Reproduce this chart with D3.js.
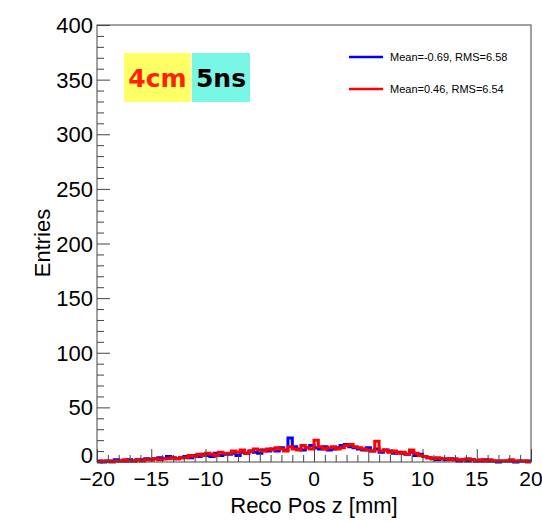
<!DOCTYPE html>
<html>
<head>
<meta charset="utf-8">
<script src="https://cdn.jsdelivr.net/npm/d3@7"></script>
<style>
body { margin: 0; background: #fff; }
svg text { font-family: "Liberation Sans", Arial, Helvetica, sans-serif; }
</style>
</head>
<body>
<div id="chart"></div>
<script>
var W = 542, H = 523,
	margin = {top: 25, right: 11, bottom: 61, left: 97},
	width = W - margin.left - margin.right,
	height = H - margin.top - margin.bottom;

// histogram: 100 bins from -20 to 20 mm
var xMin = -20, xMax = 20, nBins = 100;
var blueCounts = [
	1,0,1,1,2,1,1,2,1,2,
	2,3,2,3,4,3,5,4,3,4,
	5,4,6,5,7,6,5,8,6,7,
	7,8,6,9,8,10,9,8,11,10,
	12,10,13,11,22,14,12,11,13,15,
	13,12,14,11,12,13,15,16,14,13,
	12,11,13,10,12,9,11,10,8,9,
	8,7,9,6,7,5,4,3,2,3,
	2,3,2,1,2,1,2,1,1,2,
	1,1,0,1,1,1,0,1,1,1
];
var redCounts = [
	0,1,1,0,1,1,2,1,1,2,
	1,2,2,3,2,3,3,4,3,4,
	4,6,5,7,6,8,7,6,9,8,
	8,10,9,11,8,10,12,11,10,12,
	11,13,12,10,14,12,11,15,13,12,
	20,14,12,13,14,12,13,15,16,14,
	13,12,11,10,19,10,11,9,10,8,
	9,7,11,8,6,5,4,3,4,3,
	3,2,3,2,2,3,2,1,2,1,
	2,1,1,1,1,2,1,1,1,0
];
var legendLabels = ["Mean=-0.69, RMS=6.58", "Mean=0.46, RMS=6.54"];
var seriesColors = ["#0000ff", "#ff0000"];
var xTicks = [-20, -15, -10, -5, 0, 5, 10, 15, 20];
var yTicks = [0, 50, 100, 150, 200, 250, 300, 350, 400];

var svg = d3.select("#chart").append("svg")
	.attr("width", W)
	.attr("height", H);

var xScale = d3.scaleLinear().domain([xMin, xMax]).range([0, width]),
	yScale = d3.scaleLinear().domain([0, 400]).range([height, 0]);

var main = svg.append("g")
	.attr("transform", "translate(" + margin.left + "," + margin.top + ")");

var binW = (xMax - xMin) / nBins;

// step line through bin edges
function stepPath(counts) {
	var pts = [];
	counts.forEach(function(c, i) {
		pts.push([xMin + i * binW, c]);
		pts.push([xMin + (i + 1) * binW, c]);
	});
	return d3.line()
		.x(function(d) { return xScale(d[0]); })
		.y(function(d) { return yScale(d[1]); })(pts);
}

[blueCounts, redCounts].forEach(function(counts, k) {
	main.append("path")
		.attr("d", stepPath(counts))
		.attr("fill", "none")
		.attr("stroke", seriesColors[k])
		.attr("stroke-width", 3)
		.attr("stroke-linejoin", "miter");
});

// frame
main.append("rect")
	.attr("width", width)
	.attr("height", height)
	.attr("fill", "none")
	.attr("stroke", "#444")
	.attr("stroke-width", 1);

// x axis
var xAxis = d3.axisBottom(xScale)
	.tickValues(d3.range(-20, 21, 1))
	.tickSize(0)
	.tickFormat("");
var gx = main.append("g")
	.attr("transform", "translate(0," + height + ")")
	.call(xAxis);
gx.select(".domain").remove();
gx.selectAll(".tick line")
	.attr("stroke", "#444")
	.attr("y2", function(d) { return d % 5 === 0 ? -13 : -7; });

main.selectAll(".xlab")
	.data(xTicks)
	.enter().append("text")
	.attr("class", "xlab")
	.attr("x", function(d) { return xScale(d); })
	.attr("y", height + 24)
	.attr("text-anchor", "middle")
	.attr("font-size", 21)
	.text(function(d) { return d < 0 ? "\u2212" + Math.abs(d) : d; });

// y axis
var yAxis = d3.axisLeft(yScale)
	.tickValues(d3.range(0, 401, 10))
	.tickSize(0)
	.tickFormat("");
var gy = main.append("g").call(yAxis);
gy.select(".domain").remove();
gy.selectAll(".tick line")
	.attr("stroke", "#444")
	.attr("x2", function(d) { return d % 50 === 0 ? 13 : 7; });

main.selectAll(".ylab")
	.data(yTicks)
	.enter().append("text")
	.attr("class", "ylab")
	.attr("x", -4)
	.attr("y", function(d) { return yScale(d) + (d === 0 ? 1 : 8); })
	.attr("text-anchor", "end")
	.attr("font-size", 22)
	.text(function(d) { return d; });

// axis titles
svg.append("text")
	.attr("x", 314)
	.attr("y", 513)
	.attr("text-anchor", "middle")
	.attr("font-size", 22)
	.text("Reco Pos z [mm]");

svg.append("text")
	.attr("transform", "translate(50,243) rotate(-90)")
	.attr("text-anchor", "middle")
	.attr("font-size", 22)
	.text("Entries");

// tag boxes
var tags = [
	{label: "4cm", bg: "#ffff66", fg: "#ff2200", x: 124, w: 67},
	{label: "5ns", bg: "#77f7e4", fg: "#000000", x: 192, w: 58}
];
tags.forEach(function(t) {
	svg.append("rect")
		.attr("x", t.x).attr("y", 53)
		.attr("width", t.w).attr("height", 49)
		.attr("fill", t.bg);
	svg.append("text")
		.attr("x", t.x + t.w / 2)
		.attr("y", 87)
		.attr("text-anchor", "middle")
		.attr("font-size", 25)
		.attr("font-weight", "bold")
		.style("font-family", "'Comic Sans MS', 'DejaVu Sans', sans-serif")
		.attr("fill", t.fg)
		.text(t.label);
});

// legend
legendLabels.forEach(function(lab, i) {
	var y = 57 + i * 32;
	svg.append("line")
		.attr("x1", 349).attr("x2", 383)
		.attr("y1", y).attr("y2", y)
		.attr("stroke", seriesColors[i])
		.attr("stroke-width", 2.5);
	svg.append("text")
		.attr("x", 390)
		.attr("y", y + 4)
		.attr("font-size", 11)
		.text(lab);
});
</script>
</body>
</html>
